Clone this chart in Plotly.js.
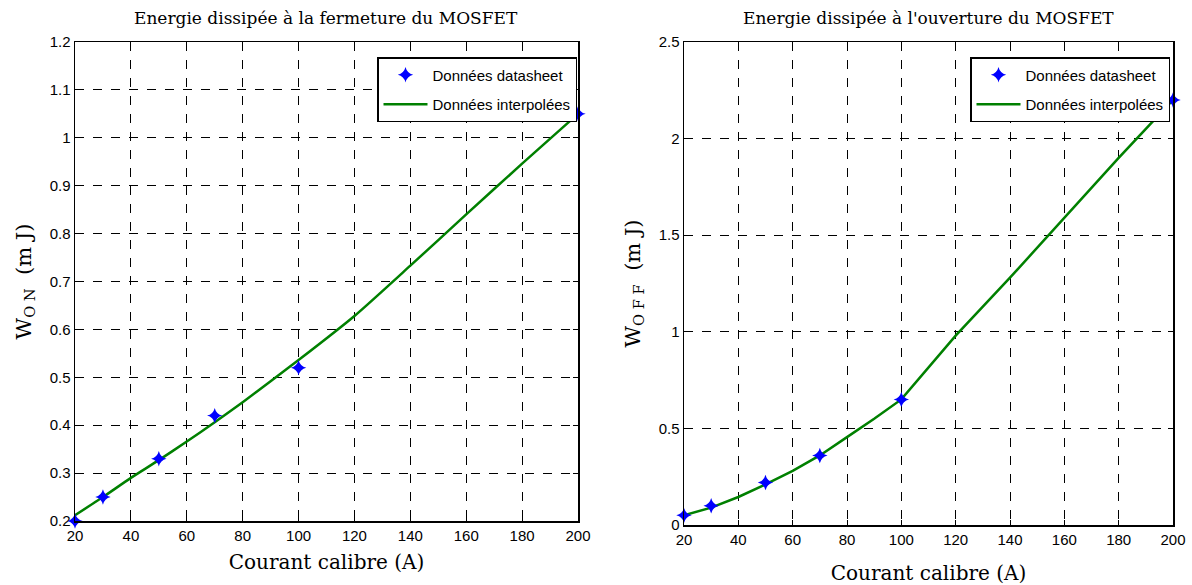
<!DOCTYPE html>
<html>
<head>
<meta charset="utf-8">
<script src="https://cdn.plot.ly/plotly-3.0.1.min.js"></script>
<style>html,body{margin:0;padding:0;background:#fff;}#chart{width:1192px;height:585px;}</style>
</head>
<body>
<div id="chart"></div>
<script>
// Courant calibre (A)
const courant = [20, 30, 50, 70, 100, 200];
// Fermeture (W_ON, mJ)
const wonDatasheet = [0.2, 0.25, 0.33, 0.42, 0.52, 1.05];
const courantInterp = [20, 30, 40, 50, 60, 70, 80, 90, 100, 120, 140, 160, 180, 200];
const wonInterp = [0.212, 0.25, 0.29, 0.327, 0.366, 0.406, 0.448, 0.492, 0.536, 0.628, 0.733, 0.84, 0.946, 1.05];
// Ouverture (W_OFF, mJ)
const woffDatasheet = [0.05, 0.1, 0.22, 0.36, 0.65, 2.2];
const woffInterp = [0.05, 0.09, 0.145, 0.21, 0.28, 0.36, 0.455, 0.55, 0.65, 0.98, 1.28, 1.59, 1.9, 2.2];

const xTicks = [20, 40, 60, 80, 100, 120, 140, 160, 180, 200];
const yTicksOn = [0.2, 0.3, 0.4, 0.5, 0.6, 0.7, 0.8, 0.9, 1.0, 1.1, 1.2];
const yTextOn = ["0.2", "0.3", "0.4", "0.5", "0.6", "0.7", "0.8", "0.9", "1", "1.1", "1.2"];
const yTicksOff = [0, 0.5, 1, 1.5, 2, 2.5];
const yTextOff = ["0", "0.5", "1", "1.5", "2", "2.5"];

const titleOn = "Energie dissipée à la fermeture du MOSFET";
const titleOff = "Energie dissipée à l'ouverture du MOSFET";
const xTitle = "Courant calibre (A)";
const legData = "Données datasheet";
const legInterp = "Données interpolées";

const markerStyle = {symbol: "star-diamond", size: 11, color: "#0000ff", line: {width: 0}};

const traces = [
  {x: courantInterp, y: wonInterp, type: "scatter", mode: "lines", name: legInterp, line: {color: "#008000", width: 2.5, shape: "spline", smoothing: 0.6}, xaxis: "x", yaxis: "y", legend: "legend", legendrank: 2, legendgroup: "a2"},
  {x: courant, y: wonDatasheet, type: "scatter", mode: "markers", name: legData, marker: markerStyle, xaxis: "x", yaxis: "y", legend: "legend", legendrank: 1, legendgroup: "a1", cliponaxis: false},
  {x: courantInterp, y: woffInterp, type: "scatter", mode: "lines", name: legInterp, line: {color: "#008000", width: 2.5}, xaxis: "x2", yaxis: "y2", legend: "legend2", legendrank: 2, legendgroup: "b2"},
  {x: courant, y: woffDatasheet, type: "scatter", mode: "markers", name: legData, marker: markerStyle, xaxis: "x2", yaxis: "y2", legend: "legend2", legendrank: 1, legendgroup: "b1", cliponaxis: false}
];

const tickFont = {family: "Liberation Sans, Arial, sans-serif", size: 15, color: "#000"};
const serif = "DejaVu Serif, Liberation Serif, serif";

function xAxis(domain, anchor, standoff) {
  return {
    domain: domain, anchor: anchor, range: [20, 200], tickvals: xTicks, ticktext: xTicks.map(String),
    showgrid: true, gridcolor: "#000", griddash: "dash", gridwidth: 1,
    showline: true, linecolor: "#000", linewidth: 1.5, mirror: "allticks",
    ticks: "inside", ticklen: 5, tickcolor: "#000", tickfont: tickFont, zeroline: false,
    title: {text: xTitle, font: {family: serif, size: 20, color: "#000"}, standoff: standoff}
  };
}
function yAxis(domain, anchor, range, vals, txt, title) {
  return {
    domain: domain, anchor: anchor, range: range, tickvals: vals, ticktext: txt,
    showgrid: true, gridcolor: "#000", griddash: "dash", gridwidth: 1,
    showline: true, linecolor: "#000", linewidth: 1.5, mirror: "allticks",
    ticks: "inside", ticklen: 5, tickcolor: "#000", tickfont: tickFont, zeroline: false,
    title: {text: title, font: {family: serif, size: 21, color: "#000"}, standoff: 12}
  };
}

const legendBase = {
  bgcolor: "#fff", bordercolor: "#000", borderwidth: 1.5,
  font: {family: "Liberation Sans, Arial, sans-serif", size: 15, color: "#000"},
  xanchor: "right", yanchor: "top", xref: "paper", yref: "paper",
  traceorder: "grouped", itemwidth: 44, tracegroupgap: 7
};

const layout = {
  width: 1192, height: 585,
  margin: {l: 0, r: 0, t: 0, b: 0},
  paper_bgcolor: "#fff", plot_bgcolor: "#fff",
  showlegend: true,
  xaxis: xAxis([75 / 1192, 578 / 1192], "y", 12),
  yaxis: yAxis([64 / 585, 543 / 585], "x", [0.2, 1.2], yTicksOn, yTextOn, "W<sub>O N</sub>  (m J)"),
  xaxis2: xAxis([684 / 1192, 1173 / 1192], "y2", 20),
  yaxis2: yAxis([60 / 585, 543 / 585], "x2", [0, 2.5], yTicksOff, yTextOff, "W<sub>O F F</sub>  (m J)"),
  legend: Object.assign({}, legendBase, {x: 577 / 1192, y: 528 / 585}),
  legend2: Object.assign({}, legendBase, {x: 1170 / 1192, y: 528 / 585}),
  annotations: [
    {text: titleOn, xref: "paper", yref: "paper", x: 326.5 / 1192, y: 567 / 585, xanchor: "center", yanchor: "middle", showarrow: false, font: {family: serif, size: 17, color: "#000"}},
    {text: titleOff, xref: "paper", yref: "paper", x: 928.5 / 1192, y: 567 / 585, xanchor: "center", yanchor: "middle", showarrow: false, font: {family: serif, size: 17, color: "#000"}}
  ]
};

Plotly.newPlot("chart", traces, layout, {displayModeBar: false, staticPlot: true});
</script>
</body>
</html>
